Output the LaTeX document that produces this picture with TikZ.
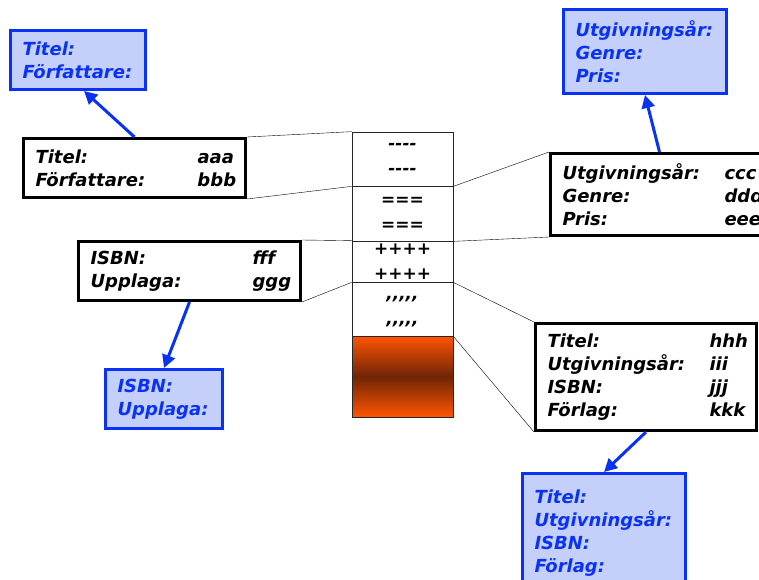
\documentclass[tikz,border=0pt]{standalone}
\usepackage{fontspec}
\setmainfont{DejaVu Sans}[Ligatures=TeXOff,BoldFont={DejaVu Sans Bold},BoldItalicFont={DejaVu Sans Bold Oblique}]
\usetikzlibrary{arrows.meta}
\definecolor{postblue}{RGB}{10,50,245}
\definecolor{postfill}{RGB}{196,208,250}
\definecolor{brickred}{RGB}{255,85,0}
\definecolor{brickdark}{RGB}{112,36,6}
\newcommand{\boxfont}{\fontsize{18}{23}\selectfont\bfseries\itshape}
\newcommand{\pair}[2]{\makebox[162pt][l]{#1}#2}
\tikzset{>/.tip={Triangle[length=13pt,width=13pt]},
  post/.style={draw, line width=3pt, fill=white, text width=#1, align=left, inner xsep=12pt, font=\boxfont},
  schema/.style={draw=postblue, line width=3pt, fill=postfill, text=postblue, text width=#1, align=left, inner xsep=12pt, font=\boxfont},
  cell/.style={draw=black!85, line width=0.7pt, minimum width=101pt, minimum height=#1, align=center, inner sep=0pt, font=\fontsize{17}{25}\selectfont\bfseries\itshape},
  refer/.style={->, draw=postblue, line width=3pt}}

\begin{document}
\begin{tikzpicture}[x=1pt,y=-1pt]
\useasboundingbox (0,0) rectangle (759,579);
% posten i mitten
\node[cell=54pt] (s1) at (402.5,159)   {----\\----};
\node[cell=55pt] (s2) at (402.5,213.5) {===\\===};
\node[cell=41pt] (s3) at (402.5,261.5) {++++\\++++};
\node[cell=54pt] (s4) at (402.5,309)   {\raisebox{-8pt}{,,,,,}\\\raisebox{-8pt}{,,,,,}};
\node[cell=81pt, top color=brickred, bottom color=brickred, middle color=brickdark] (s5) at (402.5,376.5) {};
% faelten
\node[post=198pt, minimum height=59pt]  (forf) at (134.5,168) {\pair{Titel:}{aaa}\\\pair{Författare:}{bbb}};
\node[post=214pt, minimum height=82pt]  (utg)  at (669.5,194.5) {\pair{Utgivningsår:}{ccc}\\\pair{Genre:}{ddd}\\\pair{Pris:}{eee}};
\node[post=198pt, minimum height=59pt]  (isbn) at (189.5,271) {\pair{ISBN:}{fff}\\\pair{Upplaga:}{ggg}};
\node[post=197pt, minimum height=107pt] (bok)  at (646,377) {\pair{Titel:}{hhh}\\\pair{Utgivningsår:}{iii}\\\pair{ISBN:}{jjj}\\\pair{Förlag:}{kkk}};
% schemat
\node[schema=111pt, minimum height=59pt]  (forfS) at (78,60)    {Titel:\\Författare:};
\node[schema=139pt, minimum height=84pt]  (utgS)  at (645,51.5) {Utgivningsår:\\Genre:\\Pris:};
\node[schema=93pt,  minimum height=59pt]  (isbnS) at (164,399)  {ISBN:\\Upplaga:};
\node[schema=139pt, minimum height=119pt] (bokS)  at (604,533)  {Titel:\\Utgivningsår:\\ISBN:\\Förlag:};
\draw (forf.north east) -- (s1.north west);
\draw (forf.south east) -- (s1.south west);
\draw (s1.south east) -- (utg.north west);
\draw (s2.south east) -- (utg.south west);
\draw (isbn.north east) -- (s3.north west);
\draw (isbn.south east) -- (s3.south west);
\draw (s3.south east) -- (bok.north west);
\draw (s4.south east) -- (bok.south west);
\draw[refer] (forf.north) -- ([xshift=6pt]forfS.south);
\draw[refer] ([xshift=-10pt]utg.north) -- (utgS.south);
\draw[refer] (isbn.south) -- (isbnS.north);
\draw[refer] (bok.south) -- (bokS.north);
\end{tikzpicture}
\end{document}
